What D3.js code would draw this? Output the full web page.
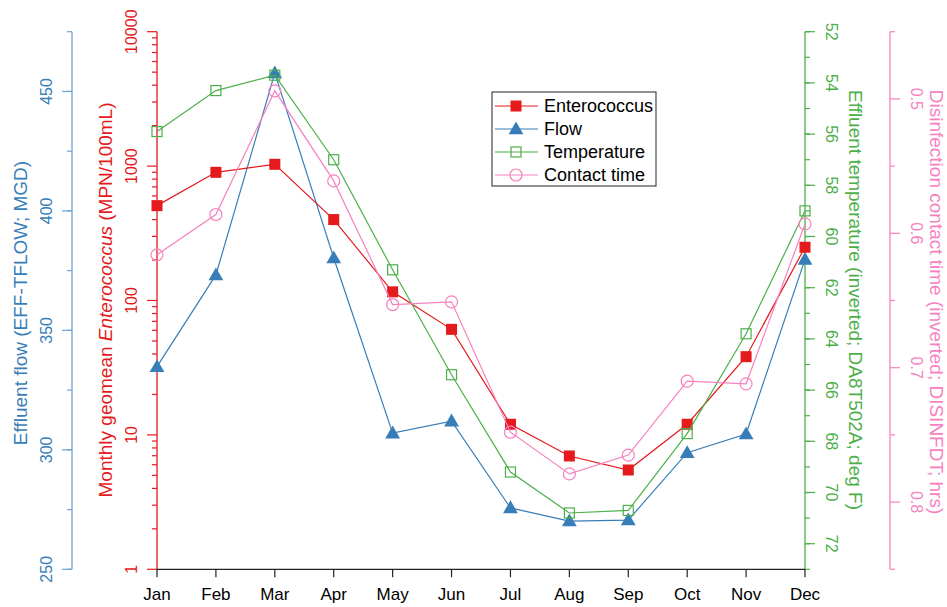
<!DOCTYPE html>
<html><head><meta charset="utf-8">
<script src="https://cdn.jsdelivr.net/npm/d3@7"></script>
<style>body{margin:0;background:#fff}svg{display:block;font-family:"Liberation Sans",Arial,sans-serif}</style>
</head><body><svg id="c" width="947" height="607"></svg>
<script>
const months=["Jan","Feb","Mar","Apr","May","Jun","Jul","Aug","Sep","Oct","Nov","Dec"];
const enterococcus=[508,899,1031,400,116,61,12.0,6.97,5.48,12.0,38.2,249];
const flow=[334.8,373.2,457.7,380.3,307,312,275.7,270.2,270.6,298.8,306.6,379.7];
const temperature=[55.9,54.3,53.7,57.0,61.3,65.4,69.2,70.8,70.7,67.7,63.8,59.0];
const contactTime=[0.616,0.586,0.494,0.561,0.653,0.651,0.748,0.779,0.765,0.710,0.712,0.593];
const flowTicks=[250,300,350,400,450];
const entTicks=[1,10,100,1000,10000];
const tempTicks=[52,54,56,58,60,62,64,66,68,70,72];
const ctTicks=[0.5,0.6,0.7,0.8];

const C={red:"#e41a1c",blue:"#377eb8",green:"#4daf4a",pink:"#f781bf"};
const yTop=31.7,yBot=569.3,xl=157,xr=805;
const svg=d3.select("#c");
const x=d3.scalePoint().domain(months).range([xl,xr]);
const yE=d3.scaleLog().domain([1,10000]).range([yBot,yTop]);
const yF=d3.scaleLinear().domain([250,475]).range([yBot,yTop]);
const yT=d3.scaleLinear().domain([52,73]).range([yTop,yBot]);
const yC=d3.scaleLinear().domain([0.45,0.85]).range([yTop,yBot]);
const fs=16;

function vaxis(xpos,scale,major,minor,color,dir,labelX,rot,fmt,axisColor){
  const g=svg.append("g");
  g.append("line").attr("x1",xpos).attr("x2",xpos).attr("y1",yTop).attr("y2",yBot).attr("stroke",axisColor||color).attr("stroke-width",1.3);
  minor.forEach(v=>g.append("line").attr("x1",xpos).attr("x2",xpos+dir*5).attr("y1",scale(v)).attr("y2",scale(v)).attr("stroke",axisColor||color).attr("stroke-width",1.2));
  major.forEach(v=>{
    g.append("line").attr("x1",xpos).attr("x2",xpos+dir*10).attr("y1",scale(v)).attr("y2",scale(v)).attr("stroke",axisColor||color).attr("stroke-width",1.2);
    g.append("text").attr("transform",`translate(${labelX},${scale(v)}) rotate(${rot})`).attr("text-anchor","middle").attr("dy","0.35em").attr("fill",color).attr("font-size",fs).text(fmt(v));
  });
  return g;
}
const flowMinor=d3.range(250,476,25);
const entMinor=[];[1,10,100,1000].forEach(d=>{for(let k=2;k<=9;k++)entMinor.push(d*k);});
const tempMinor=d3.range(52,74,1);
const ctMinor=[0.45,0.55,0.65,0.75,0.85];

vaxis(72,yF,flowTicks,flowMinor,C.blue,-1,46,-90,d=>d,"#6fa3d4");
vaxis(xl,yE,entTicks,entMinor,C.red,-1,131,-90,d=>d);
vaxis(xr,yT,tempTicks,tempMinor,C.green,1,832,90,d=>d);
vaxis(890,yC,ctTicks,ctMinor,C.pink,1,917,90,d=>d);

svg.append("text").attr("transform",`translate(20,303) rotate(-90)`).attr("text-anchor","middle").attr("dy","0.35em").attr("fill",C.blue).attr("font-size",19).text("Effluent flow (EFF-TFLOW; MGD)");
const rt=svg.append("text").attr("transform",`translate(105,300) rotate(-90)`).attr("text-anchor","middle").attr("dy","0.35em").attr("fill",C.red).attr("font-size",19);
rt.append("tspan").text("Monthly geomean ");
rt.append("tspan").attr("font-style","italic").text("Enterococcus");
rt.append("tspan").text(" (MPN/100mL)");
svg.append("text").attr("transform",`translate(856,300) rotate(90)`).attr("text-anchor","middle").attr("dy","0.35em").attr("fill",C.green).attr("font-size",19).text("Effluent temperature (inverted; DA8T502A; deg F)");
svg.append("text").attr("transform",`translate(937,302) rotate(90)`).attr("text-anchor","middle").attr("dy","0.35em").attr("fill",C.pink).attr("font-size",19).text("Disinfection contact time (inverted; DISINFDT; hrs)");

const xa=svg.append("g");
xa.append("line").attr("x1",xl).attr("x2",xr).attr("y1",yBot).attr("y2",yBot).attr("stroke","#222").attr("stroke-width",1.2);
months.forEach(m=>{
  xa.append("line").attr("x1",x(m)).attr("x2",x(m)).attr("y1",yBot).attr("y2",yBot+8).attr("stroke","#222").attr("stroke-width",1.2);
  xa.append("text").attr("x",x(m)).attr("y",600).attr("text-anchor","middle").attr("font-size",17).attr("fill","#000").text(m);
});

function marker(g,type,cx,cy,color){
  if(type==="fsq") g.append("rect").attr("x",cx-5.5).attr("y",cy-5.5).attr("width",11).attr("height",11).attr("fill",color);
  else if(type==="tri") g.append("path").attr("d",d3.symbol().type(d3.symbolTriangle).size(95)()).attr("transform",`translate(${cx},${cy+1})`).attr("fill",color);
  else if(type==="osq") g.append("rect").attr("x",cx-5).attr("y",cy-5).attr("width",10).attr("height",10).attr("fill","none").attr("stroke",color).attr("stroke-width",1.2);
  else g.append("circle").attr("cx",cx).attr("cy",cy).attr("r",6).attr("fill","none").attr("stroke",color).attr("stroke-width",1.2);
}
const series=[
  {vals:flow,y:yF,c:C.blue,t:"tri"},
  {vals:enterococcus,y:yE,c:C.red,t:"fsq"},
  {vals:temperature,y:yT,c:C.green,t:"osq"},
  {vals:contactTime,y:yC,c:C.pink,t:"circ"}
];
series.forEach(s=>{
  const g=svg.append("g");
  const line=d3.line().x((d,i)=>x(months[i])).y(d=>s.y(d));
  g.append("path").attr("d",line(s.vals)).attr("fill","none").attr("stroke",s.c).attr("stroke-width",1.2);
  s.vals.forEach((v,i)=>marker(g,s.t,x(months[i]),s.y(v),s.c));
});

const lg=svg.append("g");
lg.append("rect").attr("x",492).attr("y",92).attr("width",164).attr("height",94).attr("fill","#fff").attr("stroke","#222").attr("stroke-width",1);
const items=[["Enterococcus",C.red,"fsq"],["Flow",C.blue,"tri"],["Temperature",C.green,"osq"],["Contact time",C.pink,"circ"]];
items.forEach((it,i)=>{
  const yy=106+i*23;
  lg.append("line").attr("x1",495).attr("x2",538).attr("y1",yy).attr("y2",yy).attr("stroke",it[1]).attr("stroke-width",1.2);
  marker(lg,it[2],516,yy,it[1]);
  lg.append("text").attr("x",544).attr("y",yy).attr("dy","0.35em").attr("font-size",18).attr("fill","#000").text(it[0]);
});
</script></body></html>
